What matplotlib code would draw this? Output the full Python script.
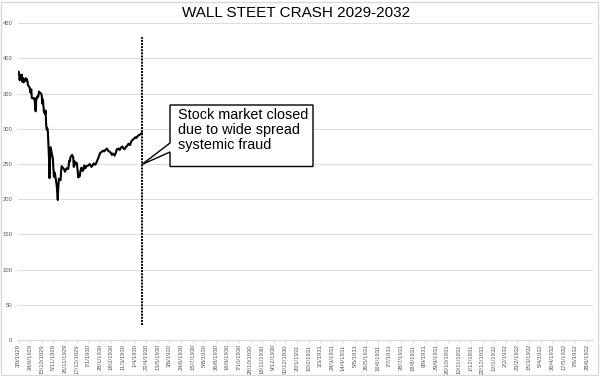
import pandas as pd
import matplotlib
matplotlib.use('Agg')
import matplotlib.pyplot as plt
from matplotlib.patches import Polygon, Rectangle

plt.rcParams['font.family'] = ['Liberation Sans', 'DejaVu Sans']

# closing values (approx. daily, 1929-09 .. 1930-04)
dates = ['1929-09-03', '1929-09-04', '1929-09-05', '1929-09-06', '1929-09-09', '1929-09-10',
         '1929-09-11', '1929-09-12', '1929-09-13', '1929-09-16', '1929-09-17', '1929-09-18',
         '1929-09-19', '1929-09-20', '1929-09-23', '1929-09-24', '1929-09-25', '1929-09-26',
         '1929-09-27', '1929-09-30', '1929-10-01', '1929-10-02', '1929-10-03', '1929-10-04',
         '1929-10-05', '1929-10-07', '1929-10-08', '1929-10-09', '1929-10-10', '1929-10-11',
         '1929-10-14', '1929-10-15', '1929-10-16', '1929-10-17', '1929-10-18', '1929-10-19',
         '1929-10-21', '1929-10-22', '1929-10-23', '1929-10-24', '1929-10-25', '1929-10-26',
         '1929-10-28', '1929-10-29', '1929-10-30', '1929-10-31', '1929-11-04', '1929-11-06',
         '1929-11-07', '1929-11-08', '1929-11-11', '1929-11-12', '1929-11-13', '1929-11-14',
         '1929-11-15', '1929-11-18', '1929-11-19', '1929-11-20', '1929-11-21', '1929-11-22',
         '1929-11-25', '1929-11-26', '1929-11-27', '1929-11-29', '1929-12-02', '1929-12-03',
         '1929-12-04', '1929-12-05', '1929-12-06', '1929-12-09', '1929-12-10', '1929-12-11',
         '1929-12-12', '1929-12-13', '1929-12-16', '1929-12-17', '1929-12-18', '1929-12-19',
         '1929-12-20', '1929-12-23', '1929-12-24', '1929-12-26', '1929-12-27', '1929-12-28',
         '1929-12-30', '1929-12-31', '1930-01-02', '1930-01-04', '1930-01-07', '1930-01-10',
         '1930-01-13', '1930-01-15', '1930-01-17', '1930-01-20', '1930-01-22', '1930-01-24',
         '1930-01-27', '1930-01-29', '1930-01-31', '1930-02-03', '1930-02-05', '1930-02-07',
         '1930-02-10', '1930-02-12', '1930-02-14', '1930-02-17', '1930-02-19', '1930-02-21',
         '1930-02-24', '1930-02-26', '1930-02-28', '1930-03-03', '1930-03-05', '1930-03-07',
         '1930-03-10', '1930-03-12', '1930-03-14', '1930-03-17', '1930-03-19', '1930-03-21',
         '1930-03-24', '1930-03-26', '1930-03-28', '1930-03-31', '1930-04-02', '1930-04-04',
         '1930-04-07', '1930-04-09', '1930-04-11', '1930-04-14']
values = [381, 378, 369, 376, 377, 367,
          372, 366, 367, 372, 368, 371,
          368, 362, 359, 353, 351, 356,
          344, 343, 342, 344, 330, 325,
          341, 346, 345, 347, 353, 352,
          350, 347, 336, 342, 333, 324,
          321, 326, 306, 299, 301, 297,
          261, 230, 258, 274, 258, 232,
          238, 236, 220, 210, 199, 217,
          229, 227, 239, 247, 246, 245,
          242, 239, 241, 244, 243, 250,
          255, 254, 260, 263, 261, 259,
          246, 254, 249, 252, 248, 241,
          231, 233, 240, 245, 242, 240,
          243, 248, 244, 247, 248, 250,
          246, 248, 251, 249, 252, 256,
          262, 266, 267, 269, 268, 270,
          272, 269, 268, 266, 263, 265,
          262, 266, 271, 272, 270, 273,
          275, 272, 271, 275, 276, 279,
          277, 282, 284, 286, 288, 287,
          290, 291, 292, 294]

tick_start = '1929-09-03'
tick_end = '1932-06-28'
y_ticks = [0, 50, 100, 150, 200, 250, 300, 350, 400, 450]

title = 'WALL STEET CRASH 2029-2032'
note = 'Stock market closed\ndue to wide spread\nsystemic fraud'

W, H = 600, 376
fig = plt.figure(figsize=(6, 3.76), dpi=100)
ax = fig.add_axes([18 / W, 1 - 340 / H, (593 - 18) / W, (340 - 23.3) / H])

x = pd.to_datetime(dates)
ax.plot(x, values, color='black', lw=1.5, zorder=3)

# closing line
ax.plot([x[-1], x[-1]], [21, 430], color='black', lw=1.4,
        linestyle=(0, (1, 0.6)), zorder=4, clip_on=False)

ax.set_ylim(0, 450)
ax.set_yticks(y_ticks)
ax.set_xlim(pd.Timestamp(tick_start) - pd.Timedelta(days=1),
            pd.Timestamp(tick_end) + pd.Timedelta(days=11))
ticks = pd.date_range(tick_start, tick_end, freq='21D')
ax.set_xticks(ticks)
ax.set_xticklabels([f'{d.day}/{d.month}/{d.year}' for d in ticks], rotation=90)

ax.grid(axis='y', color='#dedede', lw=0.8)
ax.set_axisbelow(True)
for s in ['top', 'right', 'left']:
    ax.spines[s].set_visible(False)
ax.spines['bottom'].set_color('#d9d9d9')
ax.tick_params(axis='y', length=0, pad=4, labelsize=4.2, labelcolor='#595959')
ax.tick_params(axis='x', length=2, width=0.6, color='#d9d9d9', pad=1,
               labelsize=4.2, labelcolor='#595959')

fig.text(296 / W, 1 - 13 / H, title, ha='center', va='center', fontsize=11)

# callout box
pts = [(170, 105), (313, 105), (313, 166.5), (170, 166.5), (170, 152),
       (142, 164.5), (170, 143)]
fig.patches.append(Polygon([(px / W, 1 - py / H) for px, py in pts], closed=True,
                           transform=fig.transFigure, facecolor='white',
                           edgecolor='black', lw=1, zorder=5))
fig.text(178 / W, 1 - 108 / H, note, ha='left', va='top', fontsize=10.4,
         linespacing=1.1, zorder=6)

fig.patches.append(Rectangle((0.002, 0.003), 0.995, 0.993, transform=fig.transFigure,
                             fill=False, edgecolor='#d9d9d9', lw=1))

fig.savefig('out.png', dpi=100)
